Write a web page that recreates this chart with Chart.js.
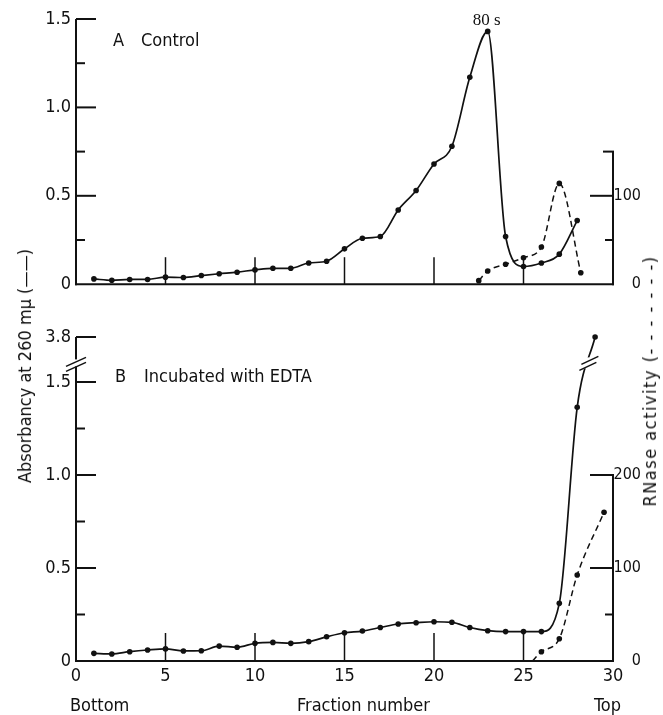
<!DOCTYPE html>
<html><head><meta charset="utf-8">
<script src="https://cdn.jsdelivr.net/npm/chart.js@4"></script>
<style>
html,body{margin:0;padding:0;background:#fff;}
#wrap{position:relative;width:663px;height:715px;overflow:hidden;font-family:'Liberation Sans Narrow','DejaVu Sans Condensed',Roboto,sans-serif;color:#111;}
.cv{position:absolute;left:0;}
.t{position:absolute;white-space:nowrap;font-size:18px;line-height:18px;}
.rot{transform:translate(-50%,-50%) rotate(-90deg);}
</style></head>
<body><div id="wrap">
<canvas id="cA" class="cv" style="top:0" width="663" height="300"></canvas>
<canvas id="cB" class="cv" style="top:300px" width="663" height="415"></canvas>
<div class="t" style="left:113px;top:31px">A</div>
<div class="t" style="left:141px;top:31px">Control</div>
<div class="t" style="left:115px;top:367px">B</div>
<div class="t" style="left:144px;top:367px">Incubated with EDTA</div>
<div class="t" style="left:70px;top:696px">Bottom</div>
<div class="t" style="left:297px;top:696px">Fraction number</div>
<div class="t" style="left:594px;top:696px">Top</div>
<div class="t rot" style="left:25px;top:366px">Absorbancy at 260 mμ (——)</div>
<div class="t rot" style="left:650px;top:381px;letter-spacing:1.5px">RNase activity (- - - - - - -)</div>
</div>
<script>
// ---------------- data ----------------
const fractionsA = [1,2,3,4,5,6,7,8,9,10,11,12,13,14,15,16,17,18,19,20,21,22,23,24,25,26,27,28];
const absorbA = [0.03,0.022,0.027,0.027,0.04,0.038,0.049,0.059,0.068,0.081,0.09,0.09,0.12,0.13,0.20,0.26,0.27,0.42,0.53,0.68,0.78,1.17,1.43,0.27,0.10,0.12,0.17,0.36];
const rnaseFractionsA = [22.5,23,24,25,26,27,28.2];
const rnaseA = [4,15,22.5,30,42,114,13];

const fractionsB = [1,2,3,4,5,6,7,8,9,10,11,12,13,14,15,16,17,18,19,20,21,22,23,24,25,26,27,28,29];
const absorbB = [0.041,0.038,0.05,0.059,0.065,0.054,0.055,0.08,0.074,0.095,0.10,0.095,0.104,0.13,0.152,0.161,0.18,0.199,0.206,0.211,0.208,0.18,0.163,0.158,0.158,0.158,0.31,1.364,3.8];
const rnaseFractionsB = [25.5,26,27,28,29.5];
const rnaseB = [0,10,24,92.5,160];

const xTickValues = [0,5,10,15,20,25,30];
const xTickLabels = ['0','5','10','15','20','25','30'];
const xMarkValues = [5,10,15,20,25];

const leftTicksA = [0,0.5,1.0,1.5];
const leftLabelsA = ['0','0.5','1.0','1.5'];
const leftMinorA = [0.25,0.75,1.25];
const rightTicksA = [0,100];
const rightLabelsA = ['0','100'];
const rightMinorA = [50];
const rightTopA = 150;

const leftTicksB = [0,0.5,1.0,1.5,3.8];
const leftLabelsB = ['0','0.5','1.0','1.5','3.8'];
const leftMinorB = [0.25,0.75,1.25];
const rightTicksB = [0,100,200];
const rightLabelsB = ['0','100','200'];
const rightMinorB = [50];
const rightTopB = 200;

// scale relations
const RNASE_PER_ABS = 200;   // 100 RNase units sit level with 0.5 absorbancy
const BREAK_AT = 1.6;        // absorbancy level where the broken axis is drawn
const BREAK_SHOW = 3.8;      // value shown above the break
const BREAK_POS = 1.742;     // axis position used for 3.8
function plotB(v){ return v > BREAK_AT ? BREAK_POS + (v - BREAK_SHOW) * 0.05 : v; }

// ---------------- styling ----------------
const FONT = "'Liberation Sans Narrow','DejaVu Sans Condensed',Roboto,sans-serif";
const INK = '#111';
const tickFont = {family: FONT, size: 18};
const rightFont = {family: FONT, size: 16};

function pts(xs, ys, f){ return xs.map((x,i)=>({x:x, y: f ? f(ys[i]) : ys[i]})); }

function decoPlugin(o){
  return {
    id: 'deco',
    afterDatasetsDraw(chart){
      const {ctx, chartArea:a, scales} = chart;
      const xs = scales.x, yl = scales.y, yr = scales.y2;
      ctx.save();
      ctx.strokeStyle = INK; ctx.fillStyle = INK; ctx.lineCap = 'butt';
      const line = (x1,y1,x2,y2)=>{ctx.beginPath();ctx.moveTo(x1,y1);ctx.lineTo(x2,y2);ctx.stroke();};
      ctx.lineWidth = 2;
      const y0 = yl.getPixelForValue(0);
      line(a.left, y0+1, a.left, yl.getPixelForValue(o.leftTop));
      line(a.left-1, y0, a.right+1, y0);
      line(a.right, y0+1, a.right, yr.getPixelForValue(o.rightTop));
      o.leftMajor.forEach(v=>{ if(v===0) return; const p=yl.getPixelForValue(v); line(a.left,p,a.left+20,p); });
      o.leftMinor.forEach(v=>{ const p=yl.getPixelForValue(v); line(a.left,p,a.left+9,p); });
      o.rightMajor.forEach(v=>{ if(v===0||v===o.rightTop) return; const p=yr.getPixelForValue(v); line(a.right,p,a.right-23,p); });
      o.rightMinor.forEach(v=>{ const p=yr.getPixelForValue(v); line(a.right,p,a.right-8,p); });
      { const p=yr.getPixelForValue(o.rightTop); line(a.right+1,p,a.right-o.rightCap,p); }
      ctx.lineWidth = 1.5;
      xMarkValues.forEach(v=>{ const p=xs.getPixelForValue(v); line(p,y0,p,y0-o.xMarkLen); });
      if (o.peakLabel){
        const meta = chart.getDatasetMeta(0);
        const pk = meta.data[o.peakLabel.index];
        ctx.font = "17px 'Liberation Serif','DejaVu Serif',serif";
        ctx.textAlign = 'center'; ctx.textBaseline = 'middle';
        ctx.fillText(o.peakLabel.text, pk.x - 1, pk.y - 11);
      }
      if (o.breakAxis){
        const yb = yl.getPixelForValue(BREAK_AT);
        ctx.fillStyle = '#fff';
        ctx.fillRect(a.left-2, yb-4, 4, 7);
        ctx.lineWidth = 1.5;
        line(a.left-10, yb+3, a.left+10, yb-6);
        line(a.left-10, yb+8, a.left+10, yb-1);
        // break on the data line
        const meta = chart.getDatasetMeta(0);
        const n = meta.data.length;
        const p1 = meta.data[n-2], p2 = meta.data[n-1];
        const t = (p1.y - yb) / (p1.y - p2.y);
        const xb = p1.x + t * (p2.x - p1.x);
        ctx.fillRect(xb-8, yb-6, 16, 11);
        line(xb-9, yb+7, xb+8, yb-1);
        line(xb-7, yb+1, xb+10, yb-7);
      }
      ctx.restore();
    }
  };
}

function baseScales(o){
  return {
    x: {type:'linear', min:0, max:30,
        afterFit(s){ s.height = o.xHeight; },
        afterBuildTicks(s){ s.ticks = xTickValues.map(v=>({value:v})); },
        ticks:{display:o.xLabels, autoSkip:false, maxRotation:0, padding:5, font:tickFont, color:INK,
               callback:(v,i)=>xTickLabels[i]},
        grid:{display:false, drawTicks:false}, border:{display:false}},
    y: {position:'left', min:0, max:o.leftMax,
        afterFit(s){ s.width = 76; },
        afterBuildTicks(s){ s.ticks = o.leftTicks.map(v=>({value:v})); },
        ticks:{autoSkip:false, padding:5, font:tickFont, color:INK, callback:(v,i)=>o.leftLabels[i]},
        grid:{display:false, drawTicks:false}, border:{display:false}},
    y2: {position:'right', min:0, max:o.leftMax * RNASE_PER_ABS,
        afterFit(s){ s.width = 28; },
        afterBuildTicks(s){ s.ticks = o.rightTicks.map(v=>({value:v})); },
        ticks:{autoSkip:false, padding:3, crossAlign:'far', font:rightFont, color:INK, callback:(v,i)=>o.rightLabels[i]},
        grid:{display:false, drawTicks:false}, border:{display:false}}
  };
}

const solidStyle = {borderColor:INK, borderWidth:1.7, pointRadius:2.8, pointBackgroundColor:INK, pointBorderWidth:0,
                    cubicInterpolationMode:'monotone', fill:false, clip:false, yAxisID:'y'};
const dashStyle = {borderColor:INK, borderWidth:1.5, borderDash:[6,4], pointBackgroundColor:INK, pointBorderWidth:0,
                   cubicInterpolationMode:'monotone', fill:false, clip:false, yAxisID:'y2'};

const commonOpts = {responsive:false, animation:false, events:[],
  plugins:{legend:{display:false}, tooltip:{enabled:false}}};

new Chart(document.getElementById('cA'), {
  type:'line',
  data:{datasets:[
    Object.assign({data:pts(fractionsA, absorbA)}, solidStyle),
    Object.assign({data:pts(rnaseFractionsA, rnaseA), pointRadius:2.8}, dashStyle)
  ]},
  options:Object.assign({}, commonOpts, {
    layout:{padding:{top:19, left:0, right:22, bottom:0}},
    scales: baseScales({xHeight:11, xLabels:false, leftMax:1.5, leftTicks:leftTicksA, leftLabels:leftLabelsA,
                        rightTicks:rightTicksA, rightLabels:rightLabelsA})
  }),
  plugins:[decoPlugin({leftTop:1.5, leftMajor:leftTicksA, leftMinor:leftMinorA, rightMajor:rightTicksA,
                       rightMinor:rightMinorA, rightTop:rightTopA, rightCap:10, xMarkLen:27,
                       peakLabel:{index:absorbA.indexOf(Math.max(...absorbA)), text:'80 s'}})]
});

new Chart(document.getElementById('cB'), {
  type:'line',
  data:{datasets:[
    Object.assign({data:pts(fractionsB, absorbB, plotB)}, solidStyle),
    Object.assign({data:pts(rnaseFractionsB, rnaseB), pointRadius:rnaseB.map(v=>v===0?0:2.8)}, dashStyle)
  ]},
  options:Object.assign({}, commonOpts, {
    layout:{padding:{top:37, left:0, right:22, bottom:0}},
    scales: baseScales({xHeight:54, xLabels:true, leftMax:plotB(BREAK_SHOW), leftTicks:leftTicksB.map(plotB),
                        leftLabels:leftLabelsB, rightTicks:rightTicksB, rightLabels:rightLabelsB})
  }),
  plugins:[decoPlugin({leftTop:plotB(BREAK_SHOW), leftMajor:leftTicksB.map(plotB), leftMinor:leftMinorB,
                       rightMajor:rightTicksB, rightMinor:rightMinorB, rightTop:rightTopB, rightCap:23,
                       xMarkLen:28, breakAxis:true})]
});
</script>
</body></html>
